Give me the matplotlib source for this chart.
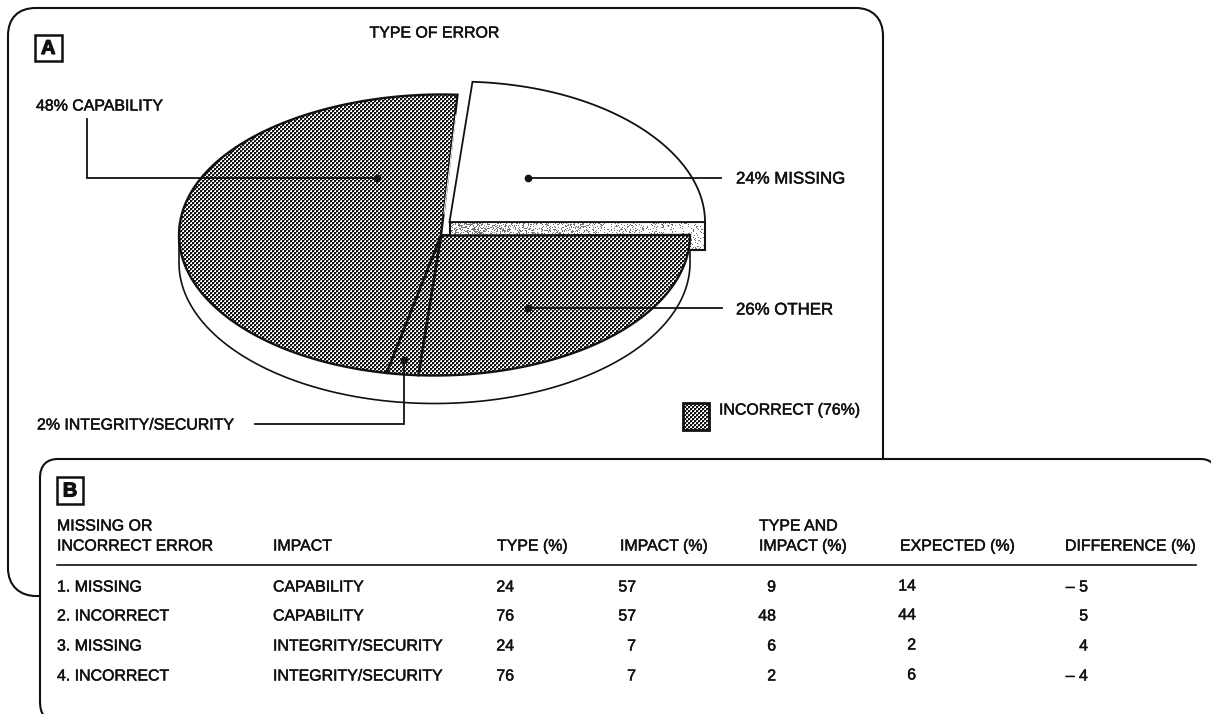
import numpy as np
import matplotlib
matplotlib.use("Agg")
import matplotlib.pyplot as plt
import matplotlib.patheffects as pe
from matplotlib.patches import PathPatch, Polygon, Rectangle
from matplotlib.path import Path

plt.rcParams['font.family'] = ['Liberation Sans', 'DejaVu Sans']

# Pie values (percent), counter-clockwise from the right-hand horizontal
slice_names = ["MISSING", "CAPABILITY", "INTEGRITY/SECURITY", "OTHER"]
slice_values = [24, 48, 2, 26]
incorrect_total = 76

# Table contents
table_errors = ["1. MISSING", "2. INCORRECT", "3. MISSING", "4. INCORRECT"]
table_impacts = ["CAPABILITY", "CAPABILITY", "INTEGRITY/SECURITY", "INTEGRITY/SECURITY"]
type_pct = [24, 76, 24, 76]
impact_pct = [57, 57, 7, 7]
type_impact_pct = [9, 48, 6, 2]
expected_pct = [14, 44, 2, 6]
difference_pct = [-5, 5, 4, -4]

W, H = 1211, 714
FS = 11.45
INK = "#111111"
HEAVY = [pe.withStroke(linewidth=0.35, foreground=INK)]
LETTER = [pe.withStroke(linewidth=0.8, foreground=INK)]

fig = plt.figure(figsize=(W / 100, H / 100), dpi=100)
ax = fig.add_axes([0, 0, 1, 1])
ax.set_xlim(0, W)
ax.set_ylim(H, 0)
ax.axis("off")


def label(x, y, s, size=FS, ha="left", z=10, **kw):
    ax.text(x, y + 1, s, fontsize=size, ha=ha, va="center", color=INK, zorder=z,
            path_effects=HEAVY, **kw)


# Print-style screens used for the shaded wedges
yy, xx = np.mgrid[0:H, 0:W]
checker = ((xx // 2 + yy // 2) % 2 == 0)
dark_screen = np.where(checker, 0.98, 0.08)
dark_screen[checker & (xx % 2 == 0) & (yy % 2 == 0)] = 0.5
grain = np.modf(np.abs(np.sin(xx * 12.9898 + yy * 78.233)) * 43758.5453)[0]
light_screen = np.where(grain > 0.62 + 0.25 * np.clip((xx - 450) / 255, 0, 1), 0.45, 1.0)


def screen_fill(patch, screen, z):
    ax.add_patch(patch)
    im = ax.imshow(screen, extent=(0, W, H, 0), cmap="gray", vmin=0, vmax=1,
                   interpolation="nearest", aspect="auto", zorder=z)
    im.set_clip_path(patch)


def rounded_outline(points, fc, z, lw=1.5):
    verts, codes = [], []
    for code, pts in points:
        verts += pts
        codes += [code] * len(pts)
    p = PathPatch(Path(verts, codes), fc=fc, ec=INK, lw=lw, zorder=z, capstyle="butt")
    ax.add_patch(p)


# Panel A frame
rounded_outline([
    (Path.MOVETO, [(60, 596)]),
    (Path.LINETO, [(36, 596)]),
    (Path.CURVE4, [(20, 596), (8, 586), (8, 568)]),
    (Path.LINETO, [(8, 36)]),
    (Path.CURVE4, [(8, 18), (18, 8), (36, 8)]),
    (Path.LINETO, [(856, 8)]),
    (Path.CURVE4, [(872, 8), (883, 18), (883, 36)]),
    (Path.LINETO, [(883, 480)]),
], "white", 1)

# Pie geometry
CX, CY, RX, RY = 434.5, 235.0, 255.5, 140.5
APEX = (441.0, 235.5)
DEPTH = 28
LEAN = 7
EXPLODE = (15, -13)


def rim(t0, t1, dx=0.0, dy=0.0):
    t = np.radians(np.linspace(t0, t1, 160))
    s = np.sin(t)
    x = CX + RX * np.cos(t) + LEAN * np.clip(s, 0, None) ** 4 + dx
    y = CY - RY * s + dy
    return np.column_stack([x, y])


edges = np.concatenate([[0], np.cumsum(slice_values)]) * 3.6

# Underside of the main pie
under = rim(180, 360, dy=DEPTH)
body = np.vstack([rim(180, 180), under, rim(360, 360)])
ax.add_patch(Polygon(body, closed=True, fc="white", ec=INK, lw=1.2, zorder=2))

# Exploded "missing" wedge with its lit side band
mx, my = CX + EXPLODE[0], CY + EXPLODE[1]
right_x = rim(0, 0, dx=EXPLODE[0])[0, 0]
band_pts = [(mx, my), (right_x, my), (right_x, my + DEPTH), (mx, my + DEPTH)]
screen_fill(Polygon(band_pts, closed=True, fc="white", ec="none", zorder=3), light_screen, 3.1)
ax.add_patch(Polygon(band_pts, closed=True, fc="none", ec=INK, lw=1.5, zorder=3.2))
missing_pts = np.vstack([[(mx, my)], rim(edges[0], edges[1], *EXPLODE)])
ax.add_patch(Polygon(missing_pts, closed=True, fc="white", ec=INK, lw=1.3, zorder=3.3))

# Shaded wedges of the main pie
for i in (1, 2, 3):
    pts = np.vstack([[APEX], rim(edges[i], edges[i + 1])])
    screen_fill(Polygon(pts, closed=True, fc="white", ec="none", zorder=4), dark_screen, 4.1)
    ax.add_patch(Polygon(pts, closed=True, fc="none", ec=INK, lw=1.7, zorder=4.2, joinstyle="miter"))

# Narrow highlight along the upper wedge edge
cap_top = rim(edges[1], edges[1])[0]
ax.plot([APEX[0] + 3, cap_top[0] - 1.5], [APEX[1] - 22, cap_top[1] + 20], color="white", lw=0.7, zorder=4.3)

# Leader lines and dots
LW = 1.3
leaders = [
    ([377, 87, 87], [178, 178, 119], 377, 178),
    ([528, 721], [178, 178], 528, 178),
    ([528, 722], [308, 308], 528, 308),
    ([404, 404, 255], [360, 424, 424], 404, 360),
]
for xs, ys, dx, dy in leaders:
    ax.plot(xs, ys, color=INK, lw=LW, zorder=5, solid_joinstyle="miter")
    ax.plot([dx], [dy], "o", color=INK, ms=4.5, zorder=5.1)

# Wedge labels
label_text = [f"{v}% {n}" for v, n in zip(slice_values, slice_names)]
label(736, 178, label_text[0], size=12.1, z=6)
label(36, 105, label_text[1], z=6)
label(37, 424, label_text[2], z=6)
label(736, 309, label_text[3], size=12.1, z=6)
label(434, 32, "TYPE OF ERROR", ha="center", z=6)

# Key for the shaded wedges
swatch = Rectangle((683, 403), 26, 27, fc="white", ec="none", zorder=5)
screen_fill(swatch, dark_screen, 5.1)
ax.add_patch(Rectangle((683, 403), 26, 27, fc="none", ec=INK, lw=2.0, zorder=5.2))
label(719, 409, f"INCORRECT ({incorrect_total}%)", z=6)

# Panel letters
ax.add_patch(Rectangle((34.5, 35), 27.5, 26, fc="white", ec=INK, lw=1.8, zorder=6))
ax.text(48.2, 48.5, "A", fontsize=14.5, weight="bold", ha="center", va="center", color=INK, zorder=7,
        path_effects=LETTER)

# Panel B frame, overlapping panel A
rounded_outline([
    (Path.MOVETO, [(44, 716)]),
    (Path.CURVE4, [(41, 712), (40, 708), (40, 700)]),
    (Path.LINETO, [(40, 478)]),
    (Path.CURVE4, [(40, 466), (46, 459), (58, 459)]),
    (Path.LINETO, [(1200, 459)]),
    (Path.CURVE4, [(1205, 459), (1209, 460), (1212, 463)]),
    (Path.LINETO, [(1214, 716)]),
    (Path.CLOSEPOLY, [(44, 716)]),
], "white", 8)
ax.add_patch(Rectangle((57, 477), 26, 27, fc="white", ec=INK, lw=1.8, zorder=9))
ax.text(70, 491, "B", fontsize=14.5, weight="bold", ha="center", va="center", color=INK, zorder=10,
        path_effects=LETTER)

# Table header
header_y = 545
label(57, 525, "MISSING OR")
label(57, 545, "INCORRECT ERROR")
label(273, header_y, "IMPACT")
label(497, header_y, "TYPE (%)")
label(620, header_y, "IMPACT (%)")
label(759, 525, "TYPE AND")
label(759, 545, "IMPACT (%)")
label(900, header_y, "EXPECTED (%)")
label(1065, header_y, "DIFFERENCE (%)")
ax.plot([57, 1196], [565, 565], color=INK, lw=1.2, zorder=10)

# Table rows
row_y = [586, 615, 645, 675]
right_edges = [514, 636, 776, 916, 1088]
for r, y in enumerate(row_y):
    label(57, y, table_errors[r])
    label(273, y, table_impacts[r])
    cols = (type_pct[r], impact_pct[r], type_impact_pct[r], expected_pct[r])
    for xr, v in zip(right_edges, cols):
        label(xr, y - (1 if xr == 916 else 0), str(v), ha="right")
    d = difference_pct[r]
    label(right_edges[4], y, f"\u2013 {abs(d)}" if d < 0 else str(d), ha="right")

fig.savefig("out.png", dpi=100, facecolor="white")
